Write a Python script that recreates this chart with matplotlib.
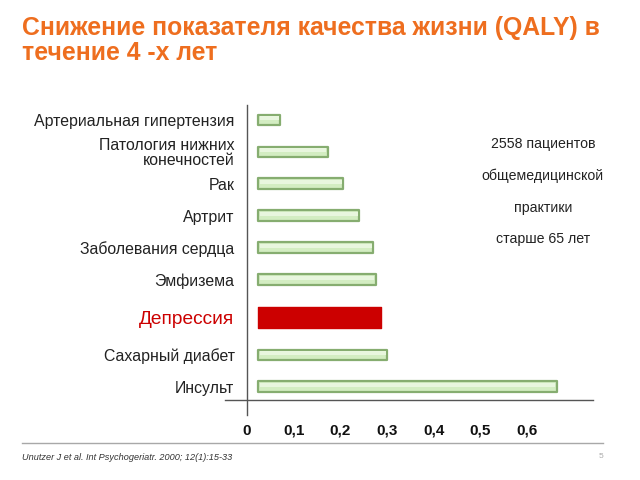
import matplotlib
matplotlib.use('Agg')
import matplotlib.pyplot as plt
from matplotlib.lines import Line2D
import numpy as np

plt.rcParams['font.family'] = ['Liberation Sans', 'DejaVu Sans']

# data
diseases = ['Артериальная гипертензия', 'Патология нижних\nконечностей', 'Рак', 'Артрит',
            'Заболевания сердца', 'Эмфизема', 'Депрессия', 'Сахарный диабет', 'Инсульт']
qaly_end = [0.071, 0.173, 0.206, 0.240, 0.270, 0.276, 0.287, 0.300, 0.664]
highlight = 'Депрессия'
x_ticks = [0, 0.1, 0.2, 0.3, 0.4, 0.5, 0.6]
x_tick_labels = ['0', '0,1', '0,2', '0,3', '0,4', '0,5', '0,6']
note_lines = ['2558 пациентов', 'общемедицинской', 'практики', 'старше 65 лет']
title = 'Снижение показателя качества жизни (QALY) в\nтечение 4 -х лет'
source = 'Unutzer J et al. Int Psychogeriatr. 2000; 12(1):15-33'

W, H = 640, 480
fig = plt.figure(figsize=(6.4, 4.8), dpi=100)

# axes box in pixels: left 247, right 593, top 105, bottom 400
ax = fig.add_axes([247 / W, 1 - 400 / H, (593 - 247) / W, (400 - 105) / H])

hi = diseases.index(highlight)
ypos = np.array([i + 0.18 * (i >= hi) + 0.18 * (i > hi) for i in range(len(diseases))])
start = 0.024

for i, (name, val) in enumerate(zip(diseases, qaly_end)):
    if name == highlight:
        ax.barh(ypos[i], val - start, left=start, height=0.66, color='#cc0000',
                edgecolor='#cc0000', linewidth=1, joinstyle='round')
    else:
        ax.barh(ypos[i], val - start, left=start, height=0.34, color='#d3edc2',
                edgecolor='#86ad70', linewidth=1.6, joinstyle='round')
        # light highlight stripe on top part of the bar
        ax.barh(ypos[i] - 0.06, val - start - 0.006, left=start + 0.003, height=0.12,
                color='#e8f6de', linewidth=0)

ax.set_xlim(0, 346 / 466.7)
ax.set_ylim(8.77, -0.47)

ax.set_yticks(ypos)
ax.set_yticklabels(diseases, fontsize=11.4, ha='right', linespacing=0.95)
for lbl in ax.get_yticklabels():
    if lbl.get_text() == highlight:
        lbl.set_color('#cc0000')
        lbl.set_fontsize(13.8)
    else:
        lbl.set_color('#222222')
ax.tick_params(axis='y', length=0, pad=9)

ax.set_xticks(x_ticks)
ax.set_xticklabels(x_tick_labels, fontsize=11, fontweight='bold', color='#111111')
ax.tick_params(axis='x', length=0, pad=17)

for s in ax.spines.values():
    s.set_visible(False)

# axis lines drawn in figure pixels
fig.add_artist(Line2D([247 / W, 247 / W], [1 - 105 / H, 1 - 415 / H], color='#555555', lw=1))
fig.add_artist(Line2D([225 / W, 593 / W], [1 - 400 / H, 1 - 400 / H], color='#555555', lw=1))

ax.text(0.855, 0.707, '\n'.join(note_lines), transform=ax.transAxes, ha='center', va='center',
        fontsize=10.2, color='#222222', linespacing=2.55)

fig.text(22 / W, 1 - 16 / H, title, ha='left', va='top', fontsize=17.8, fontweight='bold',
         color='#ee6e1f', linespacing=1.05)

fig.add_artist(Line2D([22 / W, 603 / W], [1 - 443 / H, 1 - 443 / H], color='#a8a8a8', lw=1))
fig.text(22 / W, 1 - 457 / H, source, ha='left', va='center', fontsize=6.6,
         style='italic', color='#333333')
fig.text(603 / W, 1 - 457 / H, '5', ha='right', va='center', fontsize=6, color='#aaaaaa')

fig.savefig('out.png', dpi=100)
